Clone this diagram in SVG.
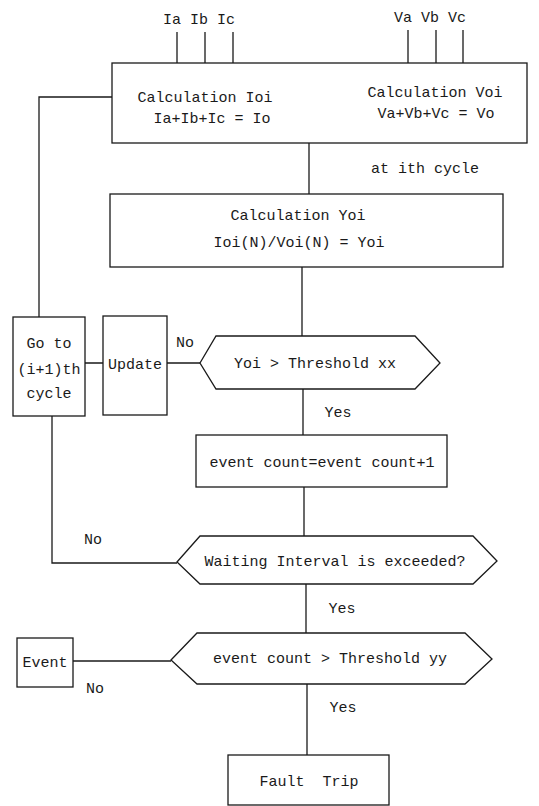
<svg xmlns="http://www.w3.org/2000/svg" width="539" height="806" viewBox="0 0 539 806">
<style>
.s{fill:none;stroke:#1a1a1a;stroke-width:1.3}
.b{fill:#fff;stroke:#1a1a1a;stroke-width:1.3}
text{font-family:"Liberation Mono","DejaVu Sans Mono",monospace;font-size:15px;fill:#1a1a1a;text-anchor:middle}
</style>
<rect width="539" height="806" fill="#fff"/>
<g id="connectors">
<path class="s" d="M177,32V63M205,32V63M233,32V63M408,30V63M436,30V63M463,30V63"/>
<path class="s" d="M309,143V194"/>
<path class="s" d="M302,267V336"/>
<path class="s" d="M85,363H103M167,363H200"/>
<path class="s" d="M39,317V97H112"/>
<path class="s" d="M52,416V563H177"/>
<path class="s" d="M303,389V435"/>
<path class="s" d="M304,487V536"/>
<path class="s" d="M306,584V633"/>
<path class="s" d="M73,661H171"/>
<path class="s" d="M307,684V755"/>
<text x="199" y="24">Ia Ib Ic</text>
<text x="430" y="22">Va Vb Vc</text>
<text x="425" y="173">at ith cycle</text>
<text x="185" y="347">No</text>
<text x="338" y="417">Yes</text>
<text x="93" y="544">No</text>
<text x="342" y="613">Yes</text>
<text x="95" y="693">No</text>
<text x="343" y="712">Yes</text>
</g>
<g id="calc-io-vo">
<rect class="b" x="112" y="63" width="415" height="80"/>
<text x="205" y="102">Calculation Ioi</text>
<text x="212" y="123">Ia+Ib+Ic = Io</text>
<text x="435" y="97">Calculation Voi</text>
<text x="436" y="118">Va+Vb+Vc = Vo</text>
</g>
<g id="calc-yoi">
<rect class="b" x="110" y="194" width="393" height="73"/>
<text x="298" y="220">Calculation Yoi</text>
<text x="299" y="247">Ioi(N)/Voi(N) = Yoi</text>
</g>
<g id="cond-yoi">
<polygon class="b" points="200,363 216,336 415,336 440,363 415,389 216,389"/>
<text x="315" y="368">Yoi &gt; Threshold xx</text>
</g>
<g id="goto">
<rect class="b" x="13" y="317" width="72" height="99"/>
<text x="49" y="348">Go to</text>
<text x="49" y="374">(i+1)th</text>
<text x="49" y="398">cycle</text>
</g>
<g id="update">
<rect class="b" x="103" y="316" width="64" height="99"/>
<text x="135" y="369">Update</text>
</g>
<g id="event-count">
<rect class="b" x="196" y="435" width="251" height="52"/>
<text x="322" y="467">event count=event count+1</text>
</g>
<g id="cond-wait">
<polygon class="b" points="177,562 200,536 473,536 497,561 473,584 200,584"/>
<text x="335" y="566">Waiting Interval is exceeded?</text>
</g>
<g id="cond-count">
<polygon class="b" points="171,660 197,633 465,633 492,659 465,684 197,684"/>
<text x="330" y="663">event count &gt; Threshold yy</text>
</g>
<g id="event">
<rect class="b" x="17" y="638" width="56" height="49"/>
<text x="45" y="667">Event</text>
</g>
<g id="fault-trip">
<rect class="b" x="228" y="755" width="161" height="50"/>
<text x="309" y="786" xml:space="preserve">Fault  Trip</text>
</g>
</svg>
